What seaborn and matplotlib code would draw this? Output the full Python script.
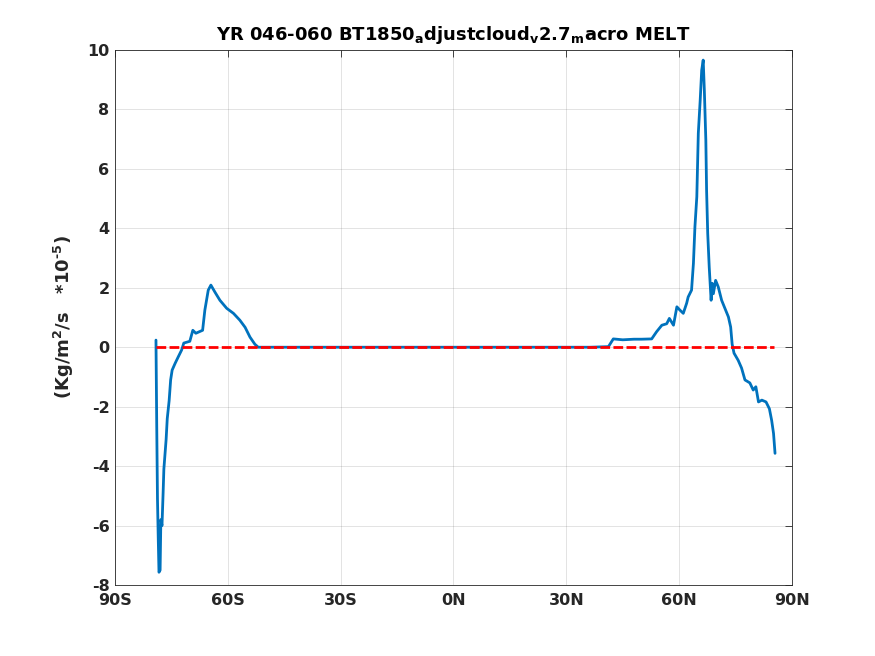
import numpy as np
import pandas as pd
import matplotlib
matplotlib.use('Agg')
import matplotlib.pyplot as plt
import seaborn as sns

# zonal mean melt (units of 1e-5 Kg/m2/s)
lat = [-79.1, -78.9, -78.7, -78.5, -78.3, -78.0, -77.8, -77.5, -77.2, -77.0,
       -76.4, -76.1, -75.6, -75.2, -74.8, -74.0, -73.2, -72.3, -71.7, -70.1,
       -69.3, -68.5, -66.7, -66.1, -65.2, -64.5, -63.4, -62.1, -60.3, -58.5,
       -56.8, -55.4, -54.1, -52.8, -51.9, -45.0, -30.0, -15.0, 0.0, 15.0,
       30.0, 36.3, 41.2, 42.5, 45.0, 48.0, 50.0, 52.7, 54.0, 55.4,
       56.7, 57.4, 58.5, 59.4, 60.2, 61.1, 62.0, 62.4, 63.3, 63.8,
       64.2, 64.7, 65.1, 65.6, 66.0, 66.4, 66.7, 67.1, 67.3, 67.6,
       68.0, 68.5, 68.8, 69.1, 69.7, 70.4, 71.3, 72.2, 73.1, 73.7,
       74.1, 74.6, 75.7, 76.6, 77.5, 78.8, 79.7, 80.4, 81.1, 82.0,
       83.1, 84.0, 84.6, 85.1, 85.5]
melt = [0.24, -2.6, -5.1, -6.4, -7.57, -7.5, -5.8, -6.0, -4.9, -4.1,
        -3.1, -2.4, -1.8, -1.1, -0.77, -0.54, -0.33, -0.1, 0.14, 0.2,
        0.57, 0.47, 0.57, 1.25, 1.92, 2.09, 1.85, 1.58, 1.31, 1.14,
        0.91, 0.67, 0.34, 0.1, 0.0, 0.0, 0.0, 0.0, 0.0, 0.0,
        0.0, 0.0, 0.02, 0.28, 0.25, 0.27, 0.27, 0.28, 0.52, 0.74,
        0.79, 0.97, 0.74, 1.36, 1.25, 1.14, 1.48, 1.69, 1.92, 2.82,
        4.05, 5.06, 7.2, 8.31, 9.32, 9.66, 8.65, 6.97, 5.28, 3.83,
        2.7, 1.58, 2.15, 1.8, 2.25, 2.03, 1.58, 1.3, 1.02, 0.68,
        0.1, -0.2, -0.44, -0.7, -1.1, -1.2, -1.44, -1.33, -1.84, -1.78,
        -1.84, -2.07, -2.46, -2.9, -3.57]

# reference zero line
ref_lat = [-79.1, 85.3]
ref_val = [0.0, 0.0]

xticks = [-90, -60, -30, 0, 30, 60, 90]
xlabels = ['90S', '60S', '30S', '0N', '30N', '60N', '90N']
yticks = [-8, -6, -4, -2, 0, 2, 4, 6, 8, 10]

sns.set_style('white')
plt.rcParams['font.family'] = ['DejaVu Sans']
plt.rcParams['mathtext.fontset'] = 'dejavusans'
plt.rcParams['font.weight'] = 'bold'
plt.rcParams['axes.unicode_minus'] = False

df = pd.DataFrame({'lat': lat, 'melt': melt})
ref = pd.DataFrame({'lat': ref_lat, 'melt': ref_val})

fig = plt.figure(figsize=(8.75, 6.56), dpi=100)
ax = fig.add_axes([0.1314, 0.1082, 0.7737, 0.8156])

sns.lineplot(data=df, x='lat', y='melt', ax=ax, color='#0072BD', linewidth=2, sort=False)
sns.lineplot(data=ref, x='lat', y='melt', ax=ax, color='#FF0000', linewidth=2,
             linestyle=(0, (3.5, 1.2)))

ax.set_xlim(-90, 90)
ax.set_ylim(-8, 10)
ax.set_xticks(xticks)
ax.set_xticklabels(xlabels)
ax.set_yticks(yticks)
ax.grid(True, color='#262626', alpha=0.15, linewidth=0.6)
ax.tick_params(direction='in', length=5, width=0.6, top=True, right=True,
               labelsize=11.5, colors='#262626', labelcolor='#262626', pad=4)
ax.tick_params(axis='x', pad=6)
for lab in ax.get_xticklabels() + ax.get_yticklabels():
    lab.set_fontweight('bold')
for s in ax.spines.values():
    s.set_color('#262626')
    s.set_linewidth(0.6)

ax.set_xlabel('')
ax.set_ylabel(r'(Kg/m$^{\mathbf{2}}$/s   *10$^{\mathbf{\text{-}5}}$)', fontsize=13,
              fontweight='bold', color='#262626', labelpad=8)
ax.set_title(r'YR 046-060 BT1850$_{\mathrm{a}}$djustcloud$_{\mathrm{v}}$2.7$_{\mathrm{m}}$acro MELT',
             fontsize=13, fontweight='bold', color='black', pad=7)

fig.savefig('out.png', dpi=100)
